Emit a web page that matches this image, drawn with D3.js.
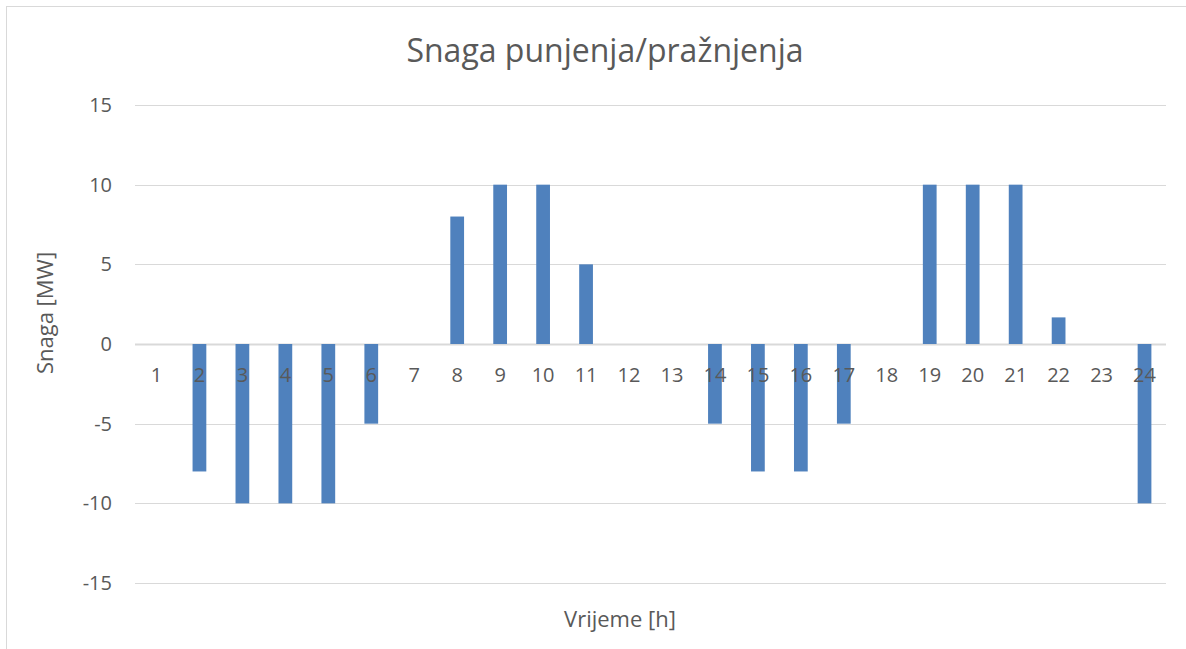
<!DOCTYPE html>
<html>
<head>
<meta charset="utf-8">
<script src="https://cdn.jsdelivr.net/npm/d3@7"></script>
<style>
  body { margin: 0; background: #fff; }
  text { font-family: "Open Sans", "Liberation Sans", sans-serif; fill: #595959; }
</style>
</head>
<body>
<div id="chart"></div>
<script>
// hours and charging/discharging power
var hours = ["1","2","3","4","5","6","7","8","9","10","11","12","13","14","15","16","17","18","19","20","21","22","23","24"];
var power = [0, -8, -10, -10, -10, -5, 0, 8, 10, 10, 5, 0, 0, -5, -8, -8, -5, 0, 10, 10, 10, 1.67, 0, -10];
var yTicks = [-15, -10, -5, 0, 5, 10, 15];

var W = 1186, H = 649;
var margin = {top: 105, right: 20, bottom: 66, left: 135},
  width = 1166 - margin.left,
  height = 583 - margin.top;

var svg = d3.select("#chart")
  .append("svg")
  .attr("width", W)
  .attr("height", H);

// chart frame
svg.append("rect")
  .attr("x", 6.5).attr("y", 6.5)
  .attr("width", W + 10).attr("height", H + 10)
  .style("fill", "none")
  .style("stroke", "#d9d9d9");

var g = svg.append("g")
  .attr("transform", "translate(" + margin.left + "," + margin.top + ")");

var x = d3.scaleBand()
  .domain(hours)
  .range([0, width])
  .paddingInner(0.68)
  .paddingOuter(0.34);

var y = d3.scaleLinear()
  .domain([-15, 15])
  .range([height, 0]);

// gridlines
g.append("g")
  .selectAll("line")
  .data(yTicks)
  .enter().append("line")
  .attr("x1", 0).attr("x2", width)
  .attr("y1", function(d) { return Math.round(y(d)) + 0.5; })
  .attr("y2", function(d) { return Math.round(y(d)) + 0.5; })
  .style("stroke", "#d9d9d9")
  .style("stroke-width", function(d) { return d === 0 ? 2 : 1; });

// y tick labels
g.append("g")
  .selectAll("text")
  .data(yTicks)
  .enter().append("text")
  .attr("x", -23)
  .attr("y", function(d) { return y(d); })
  .attr("dy", "0.35em")
  .style("text-anchor", "end")
  .style("font-size", "20px")
  .text(function(d) { return d; });

// bars
g.append("g")
  .selectAll("rect")
  .data(power)
  .enter().append("rect")
  .attr("x", function(d, i) { return x(hours[i]); })
  .attr("width", x.bandwidth())
  .attr("y", function(d) { return y(Math.max(0, d)); })
  .attr("height", function(d) { return Math.abs(y(d) - y(0)); })
  .style("fill", "#4f81bd");

// category labels next to zero line
g.append("g")
  .selectAll("text")
  .data(hours)
  .enter().append("text")
  .attr("x", function(d) { return x(d) + x.bandwidth() / 2; })
  .attr("y", y(0) + 38)
  .style("text-anchor", "middle")
  .style("font-size", "20px")
  .text(function(d) { return d; });

// title
svg.append("text")
  .attr("x", 605)
  .attr("y", 62)
  .style("text-anchor", "middle")
  .style("font-size", "32px")
  .text("Snaga punjenja/pražnjenja");

// axis titles
svg.append("text")
  .attr("x", 620)
  .attr("y", 627)
  .style("text-anchor", "middle")
  .style("font-size", "22px")
  .text("Vrijeme [h]");

svg.append("text")
  .attr("transform", "translate(53,313) rotate(-90)")
  .style("text-anchor", "middle")
  .style("font-size", "22px")
  .text("Snaga [MW]");
</script>
</body>
</html>
